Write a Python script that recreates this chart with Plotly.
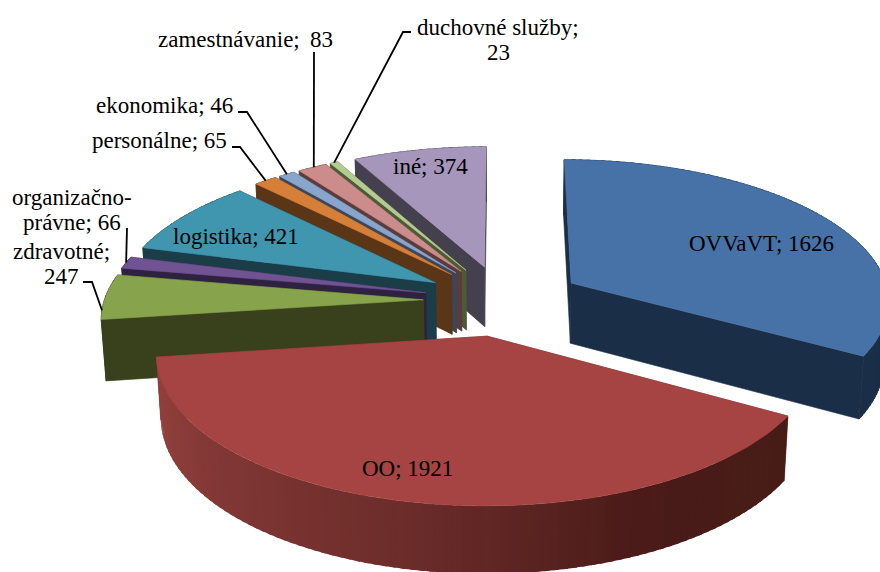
import math
import plotly.graph_objects as go

# ---- data (clockwise from 12 o'clock) ----
categories = ["OVVaVT", "OO", "zdravotné", "organizačno-právne", "logistika",
              "personálne", "ekonomika", "zamestnávanie", "duchovné služby", "iné"]
values = [1626, 1921, 247, 66, 421, 65, 46, 83, 23, 374]

# ---- styles ----
top_colors = ["#4672A8", "#A54442", "#87A44C", "#6F5392", "#3F96AE",
              "#D57F38", "#8AA5CC", "#CC8C8B", "#B4CB92", "#A696BB"]
wall_colors = ["#1A2E47", "#6B2C2A", "#39411C", "#2F2240", "#1A3D48",
               "#5A3516", "#3A465A", "#5B3C3C", "#4C5A36", "#45404E"]
FONT = "Liberation Serif"
FS = 23

# ---- projection of the 3D pie ----
CX, CY = 503.0, 300.5
K = 319.0          # horizontal scale
SIN_E = 0.443
COS_E = math.sqrt(1 - SIN_E ** 2)
P = 0.115          # perspective strength
D = COS_E / P
F = K * D
EXPLODE = 0.25
HEIGHT = 0.215


def project(u, v, z=0.0):
    depth = D - v * COS_E - z * SIN_E
    return CX + F * u / depth, CY + F * (v * SIN_E - z * COS_E) / depth


def plane(angle, radius, mid):
    ox = EXPLODE * math.sin(math.radians(mid))
    oy = -EXPLODE * math.cos(math.radians(mid))
    return (ox + radius * math.sin(math.radians(angle)),
            oy - radius * math.cos(math.radians(angle)))


def poly(fig, pts, color, width=0.6):
    xs = [p[0] for p in pts] + [pts[0][0]]
    ys = [p[1] for p in pts] + [pts[0][1]]
    fig.add_trace(go.Scatter(x=xs, y=ys, mode="lines", fill="toself", fillcolor=color,
                             line=dict(color=color, width=width), hoverinfo="skip",
                             showlegend=False))


def lerp_color(stops, t):
    for (t0, c0), (t1, c1) in zip(stops, stops[1:]):
        if t <= t1:
            f = (t - t0) / (t1 - t0)
            rgb = [round(a + (b - a) * f) for a, b in zip(c0, c1)]
            return "rgb({},{},{})".format(*rgb)
    return "rgb({},{},{})".format(*stops[-1][1])


OO_GRADIENT = [(0.0, (150, 66, 63)), (0.5, (107, 44, 42)),
               (0.75, (74, 27, 24)), (1.0, (71, 28, 23))]

total = sum(values)
slices = []
cum = 0.0
for i, val in enumerate(values):
    a0 = 360.0 * cum / total
    cum += val
    a1 = 360.0 * cum / total
    slices.append((i, a0, a1, (a0 + a1) / 2))

fig = go.Figure()
order = sorted(slices, key=lambda s: -math.cos(math.radians(s[3])))


def strip(fig, i, a0, a1, mid, b0, b1, overlap):
    color = wall_colors[i]
    width = 0.8
    if categories[i] == "OO":
        color = lerp_color(OO_GRADIENT, (a1 - (b0 + b1) / 2) / (a1 - a0))
        width = 0
    p0, p1 = plane(b0, 1, mid), plane(min(b1 + overlap, a1), 1, mid)
    poly(fig, [project(*p0), project(*p1), project(*p1, -HEIGHT), project(*p0, -HEIGHT)], color, width)


for i, a0, a1, mid in order:
    n = max(3, int((a1 - a0) / 1.5))
    angles = [a0 + (a1 - a0) * k / n for k in range(n + 1)]
    step = angles[1] - angles[0]
    apex = plane(0, 0, mid)
    pairs = list(zip(angles, angles[1:]))
    # back-facing part of the outer wall
    for b0, b1 in pairs:
        if math.cos(math.radians((b0 + b1) / 2)) > 0:
            strip(fig, i, a0, a1, mid, b0, b1, step * 0.5)
    # radial walls
    for b in (a0, a1):
        p = plane(b, 1, mid)
        poly(fig, [project(*apex), project(*p), project(*p, -HEIGHT), project(*apex, -HEIGHT)],
             wall_colors[i])
    # front-facing part of the outer wall
    for b0, b1 in pairs:
        if math.cos(math.radians((b0 + b1) / 2)) <= 0:
            strip(fig, i, a0, a1, mid, b0, b1, step * 0.5)
    # top face
    poly(fig, [project(*apex)] + [project(*plane(b, 1, mid)) for b in angles], top_colors[i])

# ---- leader lines: elbows near the labels, ends on the slices ----
leaders = {
    "organizačno-právne": ([(127, 228)], 0.0),
    "zdravotné": ([(83, 282), (92, 282)], -0.3),
    "personálne": ([(232, 147), (240, 147)], 0.0),
    "ekonomika": ([(238, 112), (247, 112)], 0.0),
    "zamestnávanie": ([(314, 52)], 0.05),
    "duchovné služby": ([(411, 32), (403, 32)], 0.0),
}
for i, a0, a1, mid in slices:
    if categories[i] in leaders:
        elbows, shift = leaders[categories[i]]
        end = project(*plane(mid + shift * (a1 - a0), 1.0, mid))
        pts = elbows + [end]
        fig.add_trace(go.Scatter(x=[p[0] for p in pts], y=[p[1] for p in pts], mode="lines",
                                 line=dict(color="#000000", width=1.8), hoverinfo="skip",
                                 showlegend=False))

# ---- labels: one annotation per text line, to hold the tight line spacing ----
label_lines = {
    "OVVaVT": ["OVVaVT; {}"],
    "OO": ["OO; {}"],
    "zdravotné": ["zdravotné;", "{}"],
    "organizačno-právne": ["organizačno-", "právne; {}"],
    "logistika": ["logistika; {}"],
    "personálne": ["personálne; {}"],
    "ekonomika": ["ekonomika; {}"],
    "zamestnávanie": ["zamestnávanie; \u2009{}"],
    "duchovné služby": ["duchovné služby;", "{}"],
    "iné": ["iné; {}"],
}
label_x = {
    "OVVaVT": 761, "OO": 407, "zdravotné": 61, "organizačno-právne": 72, "logistika": 236,
    "personálne": 159, "ekonomika": 164, "zamestnávanie": 245, "duchovné služby": 498, "iné": 430,
}
label_y = {
    "OVVaVT": [243], "OO": [468], "zdravotné": [251, 276], "organizačno-právne": [197, 222],
    "logistika": [236], "personálne": [140], "ekonomika": [105], "zamestnávanie": [39],
    "duchovné služby": [27, 52], "iné": [166],
}
for name, val in zip(categories, values):
    for line, y in zip(label_lines[name], label_y[name]):
        fig.add_annotation(x=label_x[name], y=y, xref="x", yref="y", text=line.format(val),
                           showarrow=False, xanchor="center", yanchor="middle", align="center",
                           font=dict(family=FONT, size=FS, color="#000000"))

fig.update_layout(
    width=880, height=572, autosize=False,
    margin=dict(l=0, r=0, t=0, b=0),
    paper_bgcolor="#FFFFFF", plot_bgcolor="#FFFFFF",
    xaxis=dict(range=[0, 880], visible=False, fixedrange=True),
    yaxis=dict(range=[572, 0], visible=False, fixedrange=True),
    showlegend=False,
)
fig.write_html("out.html", config={"displayModeBar": False},
               post_script="document.body.style.margin='0';document.body.style.overflow='hidden';")
